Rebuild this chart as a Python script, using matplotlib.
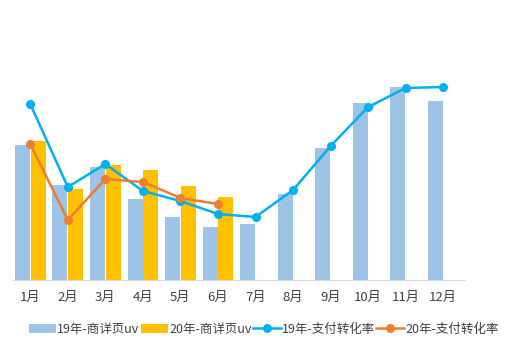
import numpy as np
import matplotlib
matplotlib.use("Agg")
import matplotlib.pyplot as plt

plt.rcParams['font.family'] = ['Noto Sans CJK SC', 'DejaVu Sans']

months = ['1月', '2月', '3月', '4月', '5月', '6月', '7月', '8月', '9月', '10月', '11月', '12月']
uv_19 = [13500, 9500, 11300, 8100, 6300, 5300, 5600, 8600, 13200, 17700, 19300, 17900]
uv_20 = [13900, 9100, 11500, 11000, 9400, 8300]
rate_19 = [1.76, 0.93, 1.16, 0.89, 0.79, 0.66, 0.63, 0.90, 1.34, 1.73, 1.92, 1.93]
rate_20 = [1.36, 0.60, 1.01, 0.98, 0.82, 0.76]

fig = plt.figure(figsize=(5.25, 3.58), dpi=100)
ax = fig.add_axes([13/525, 78/358, 452/525, 260/358])
ax2 = ax.twinx()

x = np.arange(len(months))
w = 0.4
ax.bar(x[:len(uv_19)] - 0.21, uv_19, w, color='#9DC3E6', label='19年-商详页uv', zorder=2)
ax.bar(x[:len(uv_20)] + 0.21, uv_20, w, color='#FFC000', label='20年-商详页uv', zorder=2)

ax2.plot(x[:len(rate_19)], rate_19, color='#00B0F0', lw=1.8, marker='o', ms=5.5, label='19年-支付转化率')
ax2.plot(x[:len(rate_20)], rate_20, color='#ED7D31', lw=1.8, marker='o', ms=5.5, label='20年-支付转化率')

ax.set_xlim(-0.46, 11.58)
ax.set_ylim(0, 26000)
ax2.set_ylim(0, 2.6)

ax.set_xticks(x)
ax.set_xticklabels(months, fontsize=9.5, color='#404040')
ax.tick_params(axis='x', length=0, pad=8)
ax.set_yticks([])
ax2.set_yticks([])
for a in (ax, ax2):
    for s in ['top', 'left', 'right', 'bottom']:
        a.spines[s].set_visible(False)
ax.spines['bottom'].set_visible(True)
ax.spines['bottom'].set_color('#D9D9D9')

h1, l1 = ax.get_legend_handles_labels()
h2, l2 = ax2.get_legend_handles_labels()
fig.legend(h1 + h2, l1 + l2, loc='center', bbox_to_anchor=(0.502, 29/358),
           ncol=4, frameon=False, fontsize=9, handlelength=2.2, handletextpad=0.1,
           columnspacing=0.1, labelcolor='#404040')

fig.savefig('out.png', dpi=100)
